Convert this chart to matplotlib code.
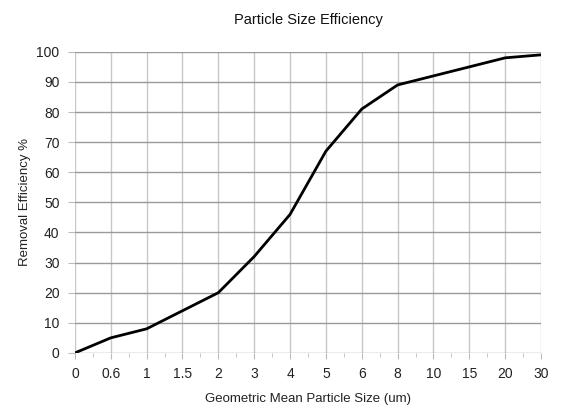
import matplotlib
matplotlib.use("Agg")
import matplotlib.pyplot as plt

plt.rcParams['font.family'] = ['Liberation Sans', 'DejaVu Sans']

sizes = ["0", "0.6", "1", "1.5", "2", "3", "4", "5", "6", "8", "10", "15", "20", "30"]
efficiency = [0, 5, 8, 14, 20, 32, 46, 67, 81, 89, 92, 95, 98, 99]
yticks = list(range(0, 101, 10))

fig = plt.figure(figsize=(5.63, 4.08), dpi=100)
ax = fig.add_axes([0.133, 0.135, 0.828, 0.738])

x = list(range(len(sizes)))
ax.plot(x, efficiency, color='black', linewidth=2.0, zorder=3)

ax.set_xlim(0, len(sizes) - 1)
ax.set_ylim(0, 100)
ax.set_xticks(x)
ax.set_xticklabels(sizes)
ax.set_yticks(yticks)
ax.set_xticks([i + 0.5 for i in x[:-1]], minor=True)

ax.grid(True, which='major', axis='y', color='#999999', linewidth=1.0)
ax.grid(True, which='major', axis='x', color='#c8c8c8', linewidth=1.0)
for s in ax.spines.values():
    s.set_visible(False)
ax.tick_params(axis='both', which='major', length=4, color='#bbbbbb', labelsize=10, labelcolor='#222222', pad=6)
ax.tick_params(axis='x', which='minor', length=3, color='#bbbbbb')
ax.tick_params(axis='y', which='major', length=5)

ax.set_title("Particle Size Efficiency", fontsize=10.5, pad=20, color='#111111')
ax.set_xlabel("Geometric Mean Particle Size (um)", fontsize=9.5, labelpad=9, color='#222222')
ax.set_ylabel("Removal Efficiency %", fontsize=9.5, labelpad=4, color='#222222')

fig.savefig("out.png", dpi=100)
